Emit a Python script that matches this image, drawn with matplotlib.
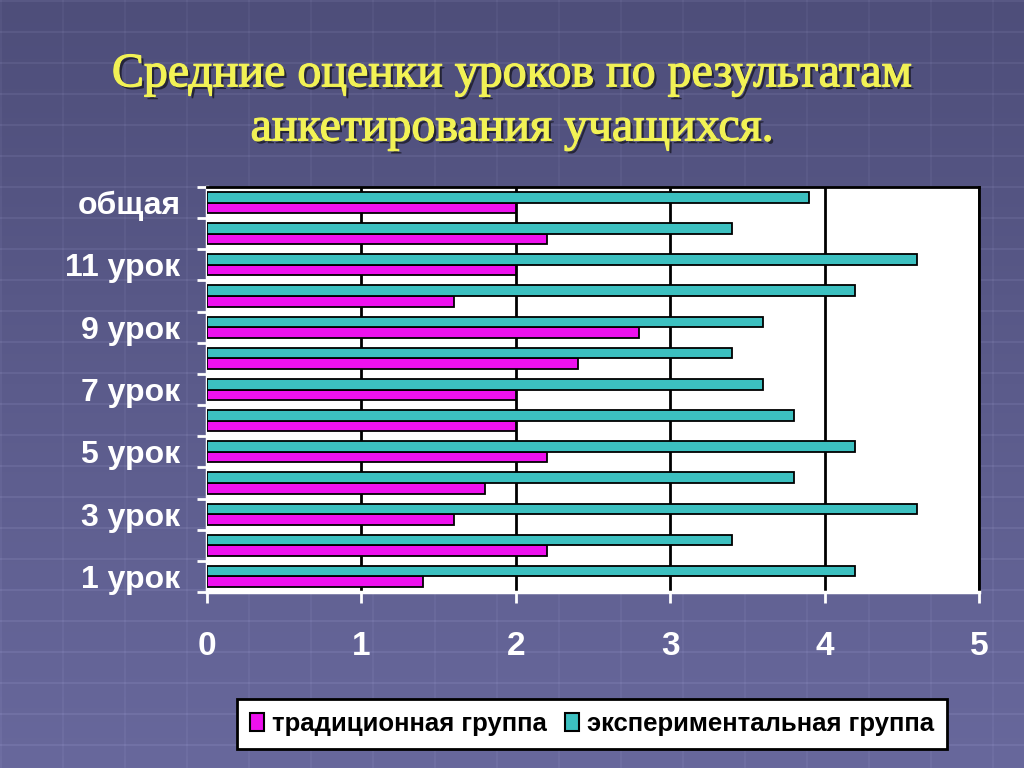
import numpy as np
import matplotlib
matplotlib.use("Agg")
import matplotlib.pyplot as plt
import matplotlib.patheffects as pe
from matplotlib.patches import Patch

categories = ["1 урок", "2 урок", "3 урок", "4 урок", "5 урок", "6 урок", "7 урок",
              "8 урок", "9 урок", "10 урок", "11 урок", "12 урок", "общая"]
shown_labels = ["1 урок", "", "3 урок", "", "5 урок", "", "7 урок",
                "", "9 урок", "", "11 урок", "", "общая"]
traditional = [1.4, 2.2, 1.6, 1.8, 2.2, 2.0, 2.0, 2.4, 2.8, 1.6, 2.0, 2.2, 2.0]
experimental = [4.2, 3.4, 4.6, 3.8, 4.2, 3.8, 3.6, 3.4, 3.6, 4.2, 4.6, 3.4, 3.9]
x_ticks = [0, 1, 2, 3, 4, 5]
series_names = ["традиционная группа", "экспериментальная группа"]
title = "Средние оценки уроков по результатам\nанкетирования учащихся."

MAGENTA = "#EE11EE"
TEAL = "#3CC0C0"

fig = plt.figure(figsize=(10.24, 7.68), dpi=100)

# background gradient with faint grid pattern
bg = fig.add_axes([0, 0, 1, 1])
H, W = 768, 1024
t = np.linspace(0, 1, H)[:, None]
top = np.array([78, 78, 122]) / 255
bot = np.array([104, 104, 156]) / 255
img = (top[None, None, :] * (1 - t[..., None]) + bot[None, None, :] * t[..., None]) * np.ones((H, W, 1))
img = img.copy()
for y in range(0, H, 31):
    img[y:y + 2, :, :] = np.clip(img[y:y + 2, :, :] + 0.04, 0, 1)
for x in range(0, W, 62):
    img[:, x:x + 2, :] = np.clip(img[:, x:x + 2, :] + 0.025, 0, 1)
bg.imshow(img, aspect="auto", extent=[0, 1, 0, 1])
bg.axis("off")

# title
fig.text(0.5, 0.868, title, ha="center", va="center", fontsize=34.5,
         family="Liberation Serif", color="#F2F255", linespacing=1.3,
         path_effects=[pe.withSimplePatchShadow(offset=(2, -2), shadow_rgbFace="#202030", alpha=0.9),
                       pe.Stroke(linewidth=0.9, foreground="#F2F255"),
                       pe.Normal()])

ax = fig.add_axes([207 / 1024, 1 - 592 / 768, (979 - 207) / 1024, (592 - 187) / 768])
ax.set_facecolor("white")
y = np.arange(len(categories))
h = 0.34
ax.barh(y - h / 2, traditional, height=h, color=MAGENTA, edgecolor="black", linewidth=1.3, zorder=3,
        label=series_names[0])
ax.barh(y + h / 2, experimental, height=h, color=TEAL, edgecolor="black", linewidth=1.3, zorder=3,
        label=series_names[1])

ax.set_xlim(0, 5)
ax.set_ylim(-0.5, len(categories) - 0.5)
ax.set_xticks(x_ticks)
ax.set_xticklabels([str(v) for v in x_ticks])
ax.xaxis.grid(True, color="black", linewidth=2, zorder=1)
ax.set_yticks(y)
ax.set_yticklabels(shown_labels)
ax.set_yticks(np.arange(-0.5, len(categories), 1.0), minor=True)
ax.tick_params(axis="y", which="major", length=0, pad=19, labelsize=23, labelcolor="white")
ax.tick_params(axis="y", which="minor", length=7, width=2, color="white", direction="out")
ax.tick_params(axis="x", which="major", length=8, width=2, color="white", direction="out",
               pad=20, labelsize=24, labelcolor="white")
for lab in ax.get_xticklabels() + ax.get_yticklabels():
    lab.set_fontweight("bold")
    lab.set_family("Liberation Sans")
for s in ["left", "bottom"]:
    ax.spines[s].set_color("white")
    ax.spines[s].set_linewidth(2.5)
for s in ["top", "right"]:
    ax.spines[s].set_color("black")
    ax.spines[s].set_linewidth(2)

handles = [Patch(facecolor=MAGENTA, edgecolor="black", linewidth=1.5),
           Patch(facecolor=TEAL, edgecolor="black", linewidth=1.5)]
leg = fig.legend(handles, series_names, loc="center", bbox_to_anchor=(592 / 1024, 1 - 724 / 768),
                 ncol=2, frameon=True, fancybox=False, handlelength=0.55, handleheight=0.75,
                 handletextpad=0.3, columnspacing=0.7, borderpad=0.5,
                 prop={"family": "Liberation Sans", "weight": "bold", "size": 18.5})
leg.get_frame().set_edgecolor("black")
leg.get_frame().set_linewidth(2)
leg.get_frame().set_facecolor("white")
leg.get_frame().set_alpha(1)

fig.savefig("out.png", dpi=100)
